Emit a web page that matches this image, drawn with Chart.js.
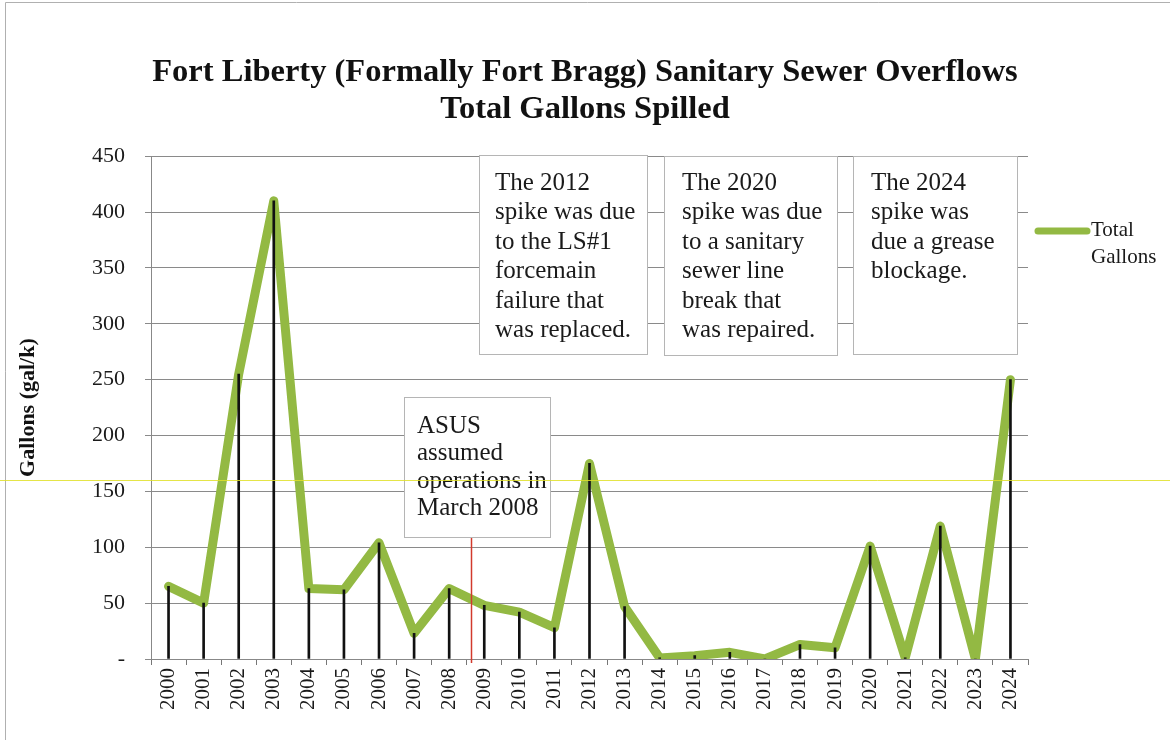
<!DOCTYPE html>
<html>
<head>
<meta charset="utf-8">
<script src="https://cdn.jsdelivr.net/npm/chart.js@4.4.1/dist/chart.umd.min.js"></script>
<style>
  html, body { margin: 0; padding: 0; background: #ffffff; }
  #wrap { position: relative; width: 1170px; height: 740px; }
</style>
</head>
<body>
<div id="wrap"><canvas id="c" width="1170" height="740"></canvas></div>
<script>
// ---- data ----
const years = ['2000','2001','2002','2003','2004','2005','2006','2007','2008','2009','2010','2011','2012',
               '2013','2014','2015','2016','2017','2018','2019','2020','2021','2022','2023','2024'];
const totalGallons = [65, 50, 255, 410, 63, 62, 104, 23, 63, 48, 42, 28, 175,
                      47, 1, 3, 6, 0, 13, 10, 101, 1, 119, 0, 250];
const yTickValues = [0, 50, 100, 150, 200, 250, 300, 350, 400, 450];
const titleLines = ['Fort Liberty (Formally Fort Bragg) Sanitary Sewer Overflows', 'Total Gallons Spilled'];
const yAxisTitle = 'Gallons (gal/k)';
const seriesName = 'Total Gallons';
const legendLines = ['Total', 'Gallons'];
const asusNote = ['ASUS', 'assumed', 'operations in', 'March 2008'];
const note2012 = ['The 2012', 'spike was due', 'to the LS#1', 'forcemain', 'failure that', 'was replaced.'];
const note2020 = ['The 2020', 'spike was due', 'to a sanitary', 'sewer line', 'break that', 'was repaired.'];
const note2024 = ['The 2024', 'spike was', 'due a grease', 'blockage.'];
const asusMarkIndex = 8.62; // March 2008 position along the category axis

const GREEN = '#93b943';
const SERIF = "'Liberation Serif', 'Times New Roman', serif";

const decorPlugin = {
  id: 'decor',
  beforeDraw(chart) {
    const ctx = chart.ctx;
    ctx.save();
    ctx.fillStyle = '#ffffff';
    ctx.fillRect(0, 0, chart.width, chart.height);
    ctx.strokeStyle = '#b0b0b0';
    ctx.lineWidth = 1;
    ctx.beginPath();
    ctx.moveTo(5.5, chart.height);
    ctx.lineTo(5.5, 2.5);
    ctx.lineTo(chart.width, 2.5);
    ctx.stroke();
    ctx.restore();
  },
  afterDatasetsDraw(chart) {
    const ctx = chart.ctx;
    const x = chart.scales.x;
    const y = chart.scales.y;
    // red March 2008 marker
    const mx = Math.round(x.getPixelForValue(asusMarkIndex)) + 0.5;
    ctx.save();
    ctx.strokeStyle = '#d23a2c';
    ctx.lineWidth = 1.5;
    ctx.beginPath();
    ctx.moveTo(mx, 537);
    ctx.lineTo(mx, y.getPixelForValue(0) + 4);
    ctx.stroke();

    // annotation boxes
    const boxes = [
      { lines: asusNote, x: 404, y: 397, w: 146, h: 140, tx: 417, ty: 426, lh: 27.5 },
      { lines: note2012, x: 479, y: 155, w: 168, h: 199, tx: 495, ty: 183, lh: 29.5 },
      { lines: note2020, x: 664, y: 156, w: 173, h: 199, tx: 682, ty: 183, lh: 29.5 },
      { lines: note2024, x: 853, y: 156, w: 164, h: 198, tx: 871, ty: 183, lh: 29.5 }
    ];
    ctx.font = '25px ' + SERIF;
    ctx.textBaseline = 'middle';
    ctx.textAlign = 'left';
    boxes.forEach(b => {
      ctx.fillStyle = '#ffffff';
      ctx.fillRect(b.x, b.y, b.w, b.h);
      ctx.strokeStyle = '#b5b5b5';
      ctx.lineWidth = 1;
      ctx.strokeRect(b.x + 0.5, b.y + 0.5, b.w, b.h);
      ctx.fillStyle = '#1a1a1a';
      b.lines.forEach((t, i) => ctx.fillText(t, b.tx, b.ty + i * b.lh));
    });

    // legend
    const area = chart.chartArea;
    const lx = area.right + 6;
    const ly = 231;
    ctx.strokeStyle = GREEN;
    ctx.lineWidth = 7;
    ctx.lineCap = 'round';
    ctx.beginPath();
    ctx.moveTo(lx + 4, ly);
    ctx.lineTo(lx + 53, ly);
    ctx.stroke();
    ctx.fillStyle = '#1a1a1a';
    ctx.font = '21px ' + SERIF;
    legendLines.forEach((t, i) => ctx.fillText(t, lx + 57, ly - 1 + i * 27));

    // faint scanner line
    ctx.strokeStyle = 'rgba(225, 225, 40, 0.85)';
    ctx.lineWidth = 1;
    ctx.beginPath();
    ctx.moveTo(0, 480.5);
    ctx.lineTo(chart.width, 480.5);
    ctx.stroke();
    ctx.restore();
  }
};

new Chart(document.getElementById('c'), {
  data: {
    labels: years,
    datasets: [
      {
        type: 'bar',
        label: 'drop',
        data: totalGallons,
        backgroundColor: '#111111',
        barThickness: 2,
        order: 0
      },
      {
        type: 'line',
        label: seriesName,
        data: totalGallons,
        borderColor: GREEN,
        backgroundColor: GREEN,
        borderWidth: 9,
        borderJoinStyle: 'round',
        borderCapStyle: 'round',
        pointRadius: 0,
        tension: 0,
        order: 1
      }
    ]
  },
  options: {
    responsive: false,
    animation: false,
    devicePixelRatio: 1,
    layout: { padding: 0 },
    plugins: {
      legend: { display: false },
      tooltip: { enabled: false },
      title: {
        display: true,
        text: titleLines,
        color: '#111111',
        font: { family: SERIF, size: 32.5, weight: 'bold', lineHeight: 1.11 },
        padding: { top: 55, bottom: 29 }
      }
    },
    scales: {
      x: {
        type: 'category',
        offset: true,
        grid: {
          display: true,
          offset: true,
          drawOnChartArea: false,
          drawTicks: true,
          tickLength: 6,
          color: '#777777'
        },
        border: { display: true, color: '#888888', width: 1 },
        ticks: {
          minRotation: 90,
          maxRotation: 90,
          autoSkip: false,
          padding: 3,
          color: '#1a1a1a',
          font: { family: SERIF, size: 21 }
        },
        afterFit(scale) { scale.height = 81; }
      },
      y: {
        type: 'linear',
        position: 'left',
        min: 0,
        max: 450,
        afterBuildTicks(scale) { scale.ticks = yTickValues.map(v => ({ value: v })); },
        grid: {
          color: '#8a8a8a',
          lineWidth: 1,
          drawTicks: true,
          tickLength: 6
        },
        border: { display: true, color: '#888888', width: 1 },
        ticks: {
          padding: 20,
          color: '#1a1a1a',
          font: { family: SERIF, size: 22 },
          callback: v => (v === 0 ? '-' : String(v))
        },
        title: {
          display: true,
          text: yAxisTitle,
          color: '#111111',
          font: { family: SERIF, size: 22, weight: 'bold', lineHeight: 1.2 },
          padding: { top: 15, bottom: 0 }
        },
        afterFit(scale) { scale.width = 151; }
      },
      yRight: {
        type: 'linear',
        position: 'right',
        display: true,
        grid: { display: false, drawOnChartArea: false, drawTicks: false },
        border: { display: false },
        ticks: { display: false },
        afterFit(scale) { scale.width = 142; }
      }
    }
  },
  plugins: [decorPlugin]
});
</script>
</body>
</html>
